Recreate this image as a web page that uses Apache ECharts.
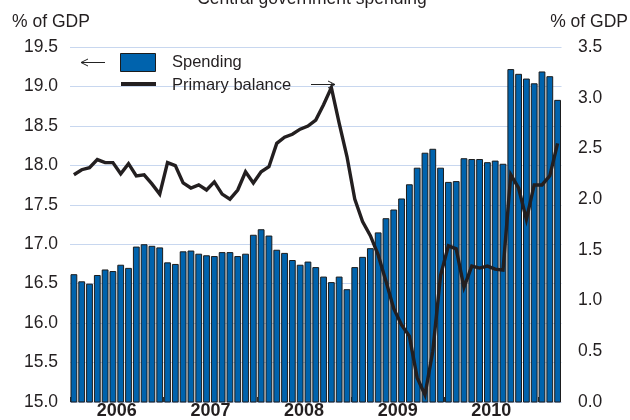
<!DOCTYPE html>
<html>
<head>
<meta charset="utf-8">
<script src="https://cdn.jsdelivr.net/npm/echarts@6/dist/echarts.min.js"></script>
<style>
  html, body { margin: 0; padding: 0; background: #fff; }
  #chart { width: 630px; height: 420px; }
</style>
</head>
<body>
<div id="chart"></div>
<script>
// Monthly series, January 2006 to March 2011
const firstYear = 2006;
const monthCount = 63;
const months = [];
for (let i = 0; i < monthCount; i++) {
  const y = firstYear + Math.floor(i / 12);
  const m = (i % 12) + 1;
  months.push(y + '-' + (m < 10 ? '0' + m : m));
}

// Central government spending, % of GDP (left axis)
const spending = [
  16.62, 16.53, 16.50, 16.61, 16.68, 16.66, 16.74, 16.70, 16.97, 17.00, 16.98, 16.96,
  16.77, 16.75, 16.91, 16.92, 16.88, 16.86, 16.85, 16.90, 16.90, 16.85, 16.88, 17.12,
  17.19, 17.11, 16.93, 16.89, 16.80, 16.74, 16.78, 16.71, 16.59, 16.52, 16.59, 16.43,
  16.71, 16.84, 16.95, 17.15, 17.33, 17.44, 17.58, 17.76, 17.97, 18.16, 18.21, 17.97,
  17.79, 17.80, 18.09, 18.08, 18.08, 18.04, 18.06, 18.02, 19.22, 19.16, 19.10, 19.04,
  19.19, 19.13, 18.83
];

// Primary balance, % of GDP (right axis)
const primaryBalance = [
  2.24, 2.29, 2.31, 2.39, 2.36, 2.36, 2.25, 2.35, 2.23, 2.24, 2.15, 2.05,
  2.36, 2.33, 2.16, 2.11, 2.14, 2.09, 2.17, 2.05, 2.00, 2.09, 2.27, 2.16,
  2.27, 2.32, 2.55, 2.61, 2.64, 2.69, 2.72, 2.78, 2.93, 3.10, 2.75, 2.42,
  2.00, 1.78, 1.64, 1.45, 1.19, 0.92, 0.76, 0.65, 0.24, 0.07, 0.50, 1.25,
  1.54, 1.51, 1.13, 1.34, 1.32, 1.34, 1.31, 1.30, 2.24, 2.11, 1.80, 2.14,
  2.14, 2.23, 2.55
];

// Year labels sit under the middle of each year; ticks mark year boundaries
const yearLabels = ['2006', '2007', '2008', '2009', '2010'];
const yearLabelPos = yearLabels.map((_, i) => i * 12 + 6);
const yearTickPos = [0, 12, 24, 36, 48, 60];

const FONT = "'Liberation Sans', Arial, Helvetica, sans-serif";
const INK = '#231f20';
const BAR_BLUE = '#0063ad';
const GRID_BLUE = '#c8d7ef';

const chart = echarts.init(document.getElementById('chart'), null, { renderer: 'canvas' });

chart.setOption({
  animation: false,
  backgroundColor: '#ffffff',
  grid: { left: 70, right: 68.5, top: 47, bottom: 17, containLabel: false },
  xAxis: [
    {
      type: 'category',
      data: months,
      position: 'bottom',
      boundaryGap: true,
      axisLine: { show: false },
      axisTick: { show: false },
      axisLabel: { show: false },
      splitLine: { show: false }
    },
    {
      type: 'value',
      min: 0,
      max: monthCount,
      position: 'bottom',
      axisLine: { show: false },
      splitLine: { show: false },
      axisTick: {
        show: true,
        inside: true,
        length: 5,
        customValues: yearTickPos,
        lineStyle: { color: '#333', width: 1 }
      },
      axisLabel: {
        show: true,
        customValues: yearLabelPos,
        formatter: (v) => yearLabels[Math.round((v - 6) / 12)] || '',
        margin: 0,
        color: INK,
        fontFamily: FONT,
        fontSize: 18,
        fontWeight: 'bold'
      }
    }
  ],
  yAxis: [
    {
      type: 'value',
      min: 15,
      max: 19.5,
      interval: 0.5,
      position: 'left',
      axisLine: { show: false },
      axisTick: { show: false },
      axisLabel: {
        margin: 12,
        color: INK,
        fontFamily: FONT,
        fontSize: 17.5,
        formatter: (v) => v.toFixed(1)
      },
      splitLine: { show: true, lineStyle: { color: GRID_BLUE, width: 1 } }
    },
    {
      type: 'value',
      min: 0,
      max: 3.5,
      interval: 0.5,
      position: 'right',
      axisLine: { show: false },
      axisTick: { show: false },
      axisLabel: {
        margin: 16.5,
        color: INK,
        fontFamily: FONT,
        fontSize: 17.5,
        formatter: (v) => v.toFixed(1)
      },
      splitLine: { show: false }
    }
  ],
  series: [
    {
      name: 'Spending',
      type: 'bar',
      xAxisIndex: 0,
      yAxisIndex: 0,
      data: spending,
      barWidth: '87%',
      itemStyle: { color: BAR_BLUE, borderColor: '#1c1c1c', borderWidth: 1 },
      z: 2
    },
    {
      name: 'Primary balance',
      type: 'line',
      xAxisIndex: 0,
      yAxisIndex: 1,
      data: primaryBalance,
      symbol: 'none',
      smooth: false,
      lineStyle: { color: INK, width: 3.4, join: 'miter' },
      z: 3
    }
  ],
  graphic: [
    // Title (runs off the top edge)
    {
      type: 'text', x: 312, y: 8,
      style: { text: 'Central government spending', fill: INK, font: '17.5px ' + FONT, align: 'center', verticalAlign: 'bottom' }
    },
    // Axis units
    {
      type: 'text', x: 12, y: 22,
      style: { text: '% of GDP', fill: INK, font: '17.5px ' + FONT, align: 'left', verticalAlign: 'middle' }
    },
    {
      type: 'text', x: 628, y: 22,
      style: { text: '% of GDP', fill: INK, font: '17.5px ' + FONT, align: 'right', verticalAlign: 'middle' }
    },
    // Legend: spending (left axis)
    {
      type: 'line', shape: { x1: 81, y1: 62.5, x2: 105, y2: 62.5 },
      style: { stroke: '#222', lineWidth: 1 }, z: 10
    },
    {
      type: 'polyline', shape: { points: [[88, 59], [81, 62.5], [88, 66]] },
      style: { stroke: '#222', lineWidth: 1, fill: null }, z: 10
    },
    {
      type: 'rect', shape: { x: 120.5, y: 53.5, width: 35, height: 18 },
      style: { fill: BAR_BLUE, stroke: '#1c1c1c', lineWidth: 1 }, z: 10
    },
    {
      type: 'text', x: 172, y: 62.5,
      style: { text: 'Spending', fill: INK, font: '16.5px ' + FONT, align: 'left', verticalAlign: 'middle' }, z: 10
    },
    // Legend: primary balance (right axis)
    {
      type: 'line', shape: { x1: 121, y1: 84, x2: 156, y2: 84 },
      style: { stroke: INK, lineWidth: 4 }, z: 10
    },
    {
      type: 'text', x: 172, y: 85,
      style: { text: 'Primary balance', fill: INK, font: '16.5px ' + FONT, align: 'left', verticalAlign: 'middle' }, z: 10
    },
    {
      type: 'line', shape: { x1: 311, y1: 84.5, x2: 335, y2: 84.5 },
      style: { stroke: '#222', lineWidth: 1 }, z: 10
    },
    {
      type: 'polyline', shape: { points: [[328, 81], [335, 84.5], [328, 88]] },
      style: { stroke: '#222', lineWidth: 1, fill: null }, z: 10
    }
  ]
});
</script>
</body>
</html>
